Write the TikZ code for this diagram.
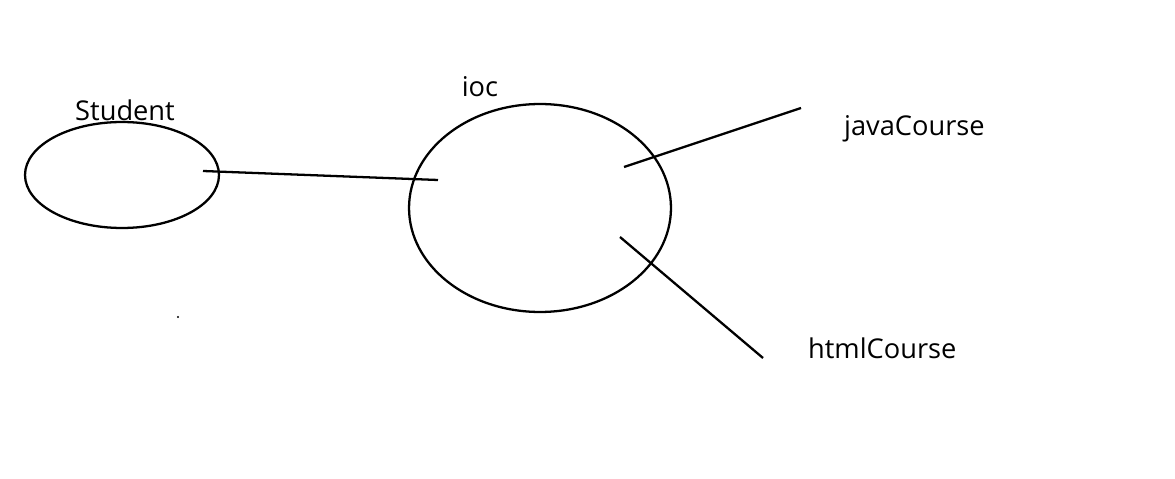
\documentclass[tikz,border=0pt]{standalone}
\usepackage{fontspec}
\setmainfont{Open Sans}
\usetikzlibrary{shapes.geometric}
\begin{document}
\begin{tikzpicture}[x=0.02cm,y=-0.02cm,line width=1.3pt]
  \tikzset{
    blob/.style={draw,ellipse,inner sep=0pt},
    lbl/.style={font=\fontsize{15.5}{18}\selectfont,inner sep=0pt}
  }
  \useasboundingbox (0,0) rectangle (1175,479);
  % the two ellipses
  \node[blob,minimum width=3.88cm,minimum height=2.12cm] (student) at (122,175) {};
  \node[blob,minimum width=5.24cm,minimum height=4.16cm] (ioc) at (540,208) {};
  \node[lbl] (studentlbl) at (125,110) {Student};
  \node[lbl] (ioclbl) at (480,87) {ioc};
  \node[lbl,anchor=west] (java) at (843,129) {javaCourse};
  \node[lbl,anchor=west] (html) at (807,348) {htmlCourse};
  % line ends
  \coordinate (s1) at (203,171);
  \coordinate (i1) at (438,180);
  \coordinate (i2) at (624,167);
  \coordinate (j1) at (801,108);
  \coordinate (i3) at (620,237);
  \coordinate (h1) at (763,358);
  \draw (s1) -- (i1);
  \draw (i2) -- (j1);
  \draw (i3) -- (h1);
  \fill (178,317) circle (0.6pt);
\end{tikzpicture}
\end{document}
